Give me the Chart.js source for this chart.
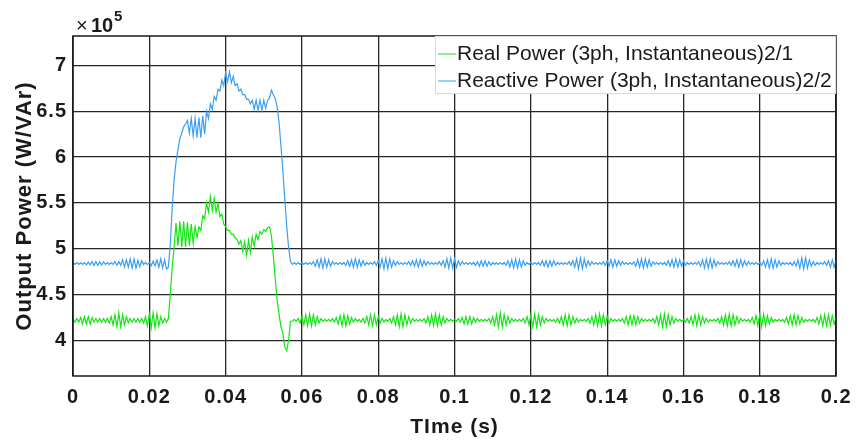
<!DOCTYPE html>
<html>
<head>
<meta charset="utf-8">
<script src="https://cdn.jsdelivr.net/npm/chart.js@4.4.1/dist/chart.umd.min.js"></script>
<style>
  html, body { margin: 0; padding: 0; background: #fff; }
  #wrap { width: 859px; height: 441px; }
</style>
</head>
<body>
<div id="wrap"><canvas id="chart" width="859" height="441"></canvas></div>
<script>
// sampled every 0.5 ms, values in units of 1e5 W / VAr
const tStep = 0.0005;
const seriesNames = ['Real Power (3ph, Instantaneous)2/1', 'Reactive Power (3ph, Instantaneous)2/2'];
const xTicks = [0, 0.02, 0.04, 0.06, 0.08, 0.1, 0.12, 0.14, 0.16, 0.18, 0.2];
const yTicks = [4, 4.5, 5, 5.5, 6, 6.5, 7];

const realPower = [
  4.24,4.20,4.24,4.20,4.25,4.18,4.26,4.18,4.26,4.18,
  4.25,4.20,4.24,4.20,4.24,4.20,4.24,4.20,4.24,4.19,
  4.26,4.17,4.28,4.15,4.30,4.15,4.28,4.17,4.26,4.19,
  4.24,4.20,4.24,4.20,4.24,4.20,4.24,4.19,4.26,4.16,
  4.29,4.14,4.30,4.14,4.29,4.16,4.26,4.19,4.24,4.20,
  4.24,4.50,4.80,5.02,5.28,5.03,5.30,5.02,5.30,5.02,
  5.29,5.03,5.27,5.06,5.24,5.12,5.24,5.20,5.36,5.33,
  5.50,5.40,5.57,5.42,5.55,5.40,5.50,5.35,5.38,5.27,
  5.24,5.20,5.20,5.16,5.16,5.12,5.10,5.05,5.09,4.97,
  5.08,4.93,5.09,4.96,5.13,5.03,5.16,5.10,5.19,5.16,
  5.21,5.19,5.23,5.24,5.14,4.92,4.68,4.44,4.29,4.15,
  4.08,3.93,3.89,4.00,4.21,4.21,4.23,4.21,4.24,4.19,
  4.26,4.17,4.28,4.16,4.29,4.16,4.28,4.17,4.26,4.19,
  4.24,4.21,4.23,4.21,4.23,4.21,4.24,4.20,4.25,4.18,
  4.27,4.16,4.28,4.16,4.27,4.18,4.25,4.20,4.24,4.21,
  4.23,4.20,4.24,4.19,4.26,4.17,4.28,4.16,4.28,4.17,
  4.26,4.19,4.24,4.20,4.23,4.21,4.24,4.19,4.26,4.17,
  4.28,4.15,4.29,4.15,4.28,4.17,4.26,4.19,4.24,4.21,
  4.23,4.21,4.23,4.21,4.24,4.19,4.26,4.17,4.28,4.16,
  4.29,4.16,4.28,4.17,4.26,4.19,4.24,4.21,4.23,4.21,
  4.23,4.21,4.24,4.20,4.25,4.18,4.26,4.18,4.26,4.18,
  4.25,4.20,4.24,4.21,4.23,4.21,4.23,4.21,4.24,4.19,
  4.26,4.17,4.28,4.15,4.30,4.15,4.28,4.17,4.26,4.19,
  4.24,4.21,4.23,4.21,4.23,4.21,4.24,4.19,4.26,4.17,
  4.28,4.15,4.29,4.15,4.28,4.17,4.26,4.19,4.24,4.21,
  4.23,4.21,4.23,4.20,4.24,4.19,4.26,4.17,4.28,4.16,
  4.28,4.17,4.26,4.19,4.24,4.20,4.23,4.21,4.23,4.21,
  4.24,4.19,4.26,4.17,4.28,4.16,4.29,4.16,4.28,4.17,
  4.26,4.19,4.24,4.21,4.23,4.21,4.23,4.21,4.24,4.19,
  4.26,4.17,4.27,4.17,4.27,4.17,4.26,4.19,4.24,4.21,
  4.23,4.21,4.23,4.21,4.24,4.19,4.26,4.17,4.28,4.15,
  4.29,4.15,4.28,4.17,4.26,4.19,4.24,4.21,4.23,4.21,
  4.23,4.20,4.24,4.19,4.26,4.17,4.28,4.16,4.28,4.17,
  4.26,4.19,4.24,4.20,4.23,4.21,4.23,4.21,4.24,4.19,
  4.26,4.17,4.28,4.16,4.29,4.16,4.28,4.17,4.26,4.19,
  4.24,4.21,4.23,4.21,4.23,4.20,4.25,4.18,4.27,4.16,
  4.29,4.15,4.29,4.16,4.27,4.18,4.25,4.20,4.23,4.21,
  4.23,4.21,4.23,4.20,4.25,4.18,4.27,4.17,4.28,4.17,
  4.27,4.18,4.25,4.20,4.23,4.21,4.23,4.21,4.23,4.20,
  4.25,4.18,4.27,4.16,4.28,4.16,4.28,4.17,4.27,4.18,
  4.25
];

const reactivePower = [
  4.85,4.83,4.85,4.83,4.85,4.83,4.85,4.825,4.855,4.825,
  4.862,4.818,4.862,4.818,4.858,4.822,4.858,4.83,4.85,4.83,
  4.85,4.83,4.86,4.82,4.86,4.82,4.88,4.80,4.88,4.80,
  4.89,4.79,4.89,4.79,4.875,4.805,4.87,4.828,4.852,4.828,
  4.852,4.815,4.865,4.815,4.88,4.80,4.89,4.79,4.88,4.78,
  4.80,5.05,5.45,5.75,5.95,6.08,6.20,6.26,6.33,6.36,
  6.40,6.26,6.42,6.23,6.42,6.21,6.43,6.21,6.45,6.25,
  6.50,6.42,6.58,6.52,6.66,6.62,6.74,6.72,6.84,6.78,
  6.92,6.82,6.93,6.81,6.88,6.78,6.80,6.72,6.74,6.68,
  6.68,6.63,6.63,6.58,6.62,6.52,6.62,6.51,6.62,6.51,
  6.62,6.53,6.62,6.64,6.73,6.68,6.64,6.55,6.38,6.12,
  5.85,5.55,5.25,5.02,4.86,4.83,4.85,4.83,4.85,4.83,
  4.85,4.83,4.85,4.83,4.85,4.83,4.86,4.81,4.88,4.80,
  4.89,4.79,4.89,4.80,4.88,4.81,4.86,4.83,4.85,4.83,
  4.85,4.83,4.85,4.82,4.87,4.81,4.88,4.80,4.89,4.80,
  4.88,4.81,4.87,4.82,4.85,4.83,4.85,4.83,4.86,4.82,
  4.87,4.80,4.89,4.78,4.90,4.78,4.89,4.80,4.87,4.82,
  4.86,4.83,4.85,4.83,4.85,4.83,4.86,4.82,4.87,4.81,
  4.88,4.80,4.88,4.81,4.87,4.82,4.86,4.83,4.85,4.83,
  4.85,4.83,4.86,4.82,4.87,4.80,4.89,4.79,4.90,4.79,
  4.89,4.80,4.87,4.82,4.86,4.83,4.85,4.83,4.85,4.83,
  4.85,4.82,4.86,4.81,4.87,4.81,4.87,4.81,4.86,4.82,
  4.85,4.83,4.85,4.83,4.85,4.83,4.85,4.82,4.87,4.80,
  4.88,4.79,4.89,4.79,4.88,4.80,4.87,4.82,4.85,4.83,
  4.85,4.83,4.85,4.83,4.85,4.82,4.87,4.81,4.87,4.80,
  4.87,4.81,4.87,4.82,4.85,4.83,4.85,4.83,4.85,4.83,
  4.86,4.82,4.87,4.80,4.89,4.78,4.90,4.78,4.89,4.80,
  4.87,4.82,4.86,4.83,4.85,4.83,4.85,4.83,4.86,4.82,
  4.87,4.81,4.88,4.80,4.88,4.81,4.87,4.82,4.86,4.83,
  4.85,4.83,4.85,4.83,4.86,4.81,4.88,4.80,4.89,4.79,
  4.89,4.80,4.88,4.81,4.86,4.83,4.85,4.83,4.85,4.83,
  4.85,4.82,4.87,4.81,4.88,4.80,4.89,4.80,4.88,4.81,
  4.87,4.82,4.85,4.83,4.85,4.83,4.85,4.83,4.86,4.81,
  4.88,4.79,4.89,4.79,4.89,4.79,4.88,4.81,4.86,4.83,
  4.85,4.83,4.85,4.83,4.86,4.82,4.87,4.81,4.88,4.80,
  4.88,4.81,4.87,4.82,4.86,4.83,4.85,4.83,4.85,4.83,
  4.85,4.82,4.87,4.80,4.88,4.79,4.89,4.79,4.88,4.80,
  4.87,4.82,4.85,4.83,4.85,4.83,4.85,4.82,4.86,4.81,
  4.88,4.79,4.90,4.78,4.90,4.79,4.88,4.81,4.86,4.82,
  4.85,4.83,4.85,4.83,4.86,4.82,4.87,4.80,4.88,4.80,
  4.88
];

const FONT = "'Liberation Sans', Arial, Helvetica, sans-serif";
const greenColor = '#14e614';
const blueColor = '#3a9ff2';

const toPoints = vals => vals.map((v, i) => ({ x: +(i * tStep).toFixed(4), y: v }));

// the exported figure has slightly spread-out axis lettering
const spacing = {
  id: 'spacing',
  beforeDraw(chart) { chart.ctx.letterSpacing = '1px'; }
};

// frame, x10^5 exponent and the boxed legend drawn on top of the plot
const decorations = {
  id: 'decorations',
  afterDraw(chart) {
    const { ctx, chartArea: a } = chart;
    ctx.save();
    ctx.letterSpacing = '0px';
    ctx.strokeStyle = '#1a1a1a';
    ctx.lineWidth = 1.5;
    ctx.strokeRect(a.left, a.top, a.right - a.left, a.bottom - a.top);

    ctx.fillStyle = '#1a1a1a';
    ctx.textBaseline = 'alphabetic';
    ctx.font = '20px ' + FONT;
    ctx.fillText('\u00d7', 76, 32);
    ctx.font = 'bold 20px ' + FONT;
    ctx.fillText('10', 91, 32);
    ctx.font = 'bold 15px ' + FONT;
    ctx.fillText('5', 114, 21);

    const lx = 435, ly = a.top, lw = a.right - lx, lh = 58;
    ctx.fillStyle = '#fff';
    ctx.fillRect(lx, ly, lw, lh);
    ctx.strokeStyle = '#d9d9d9';
    ctx.lineWidth = 1;
    ctx.strokeRect(lx + 0.5, ly + 0.5, lw - 1, lh - 1);
    ctx.font = '21px ' + FONT;
    ctx.textBaseline = 'middle';
    chart.data.datasets.forEach((ds, i) => {
      const y = ly + 18 + i * 27;
      ctx.strokeStyle = ds.borderColor;
      ctx.beginPath();
      ctx.moveTo(lx + 3, y);
      ctx.lineTo(lx + 21, y);
      ctx.stroke();
      ctx.fillStyle = '#1a1a1a';
      ctx.fillText(ds.label, lx + 22, y);
    });
    ctx.restore();
  }
};

new Chart(document.getElementById('chart'), {
  type: 'line',
  data: {
    datasets: [
      { label: seriesNames[0], data: toPoints(realPower), borderColor: greenColor, borderWidth: 1.2, pointRadius: 0, tension: 0 },
      { label: seriesNames[1], data: toPoints(reactivePower), borderColor: blueColor, borderWidth: 1.2, pointRadius: 0, tension: 0 }
    ]
  },
  options: {
    responsive: false,
    animation: false,
    layout: { padding: { top: 36, right: 18, left: 0, bottom: 0 } },
    plugins: { legend: { display: false }, tooltip: { enabled: false } },
    scales: {
      x: {
        type: 'linear',
        min: 0,
        max: 0.2,
        afterBuildTicks: s => { s.ticks = xTicks.map(v => ({ value: v })); },
        afterFit: s => { s.height = 65; },
        ticks: {
          padding: 9,
          color: '#1a1a1a',
          font: { family: FONT, size: 20, weight: 'bold' },
          callback: v => String(v)
        },
        grid: { color: '#262626', lineWidth: 1.3, drawTicks: false },
        border: { display: false },
        title: {
          display: true,
          text: 'TIme (s)',
          color: '#1a1a1a',
          font: { family: FONT, size: 21, weight: 'bold' },
          padding: { top: 0, bottom: 1 }
        }
      },
      y: {
        min: 3.613,
        max: 7.32,
        afterBuildTicks: s => { s.ticks = yTicks.map(v => ({ value: v })); },
        afterFit: s => { s.width = 73; },
        ticks: {
          padding: 6,
          color: '#1a1a1a',
          font: { family: FONT, size: 20, weight: 'bold' },
          callback: v => String(v)
        },
        grid: { color: '#262626', lineWidth: 1.3, drawTicks: false },
        border: { display: false },
        title: {
          display: true,
          text: 'Output Power (W/VAr)',
          color: '#1a1a1a',
          font: { family: FONT, size: 22, weight: 'bold' },
          padding: { top: 12, bottom: 0 }
        }
      }
    }
  },
  plugins: [spacing, decorations]
});
</script>
</body>
</html>
